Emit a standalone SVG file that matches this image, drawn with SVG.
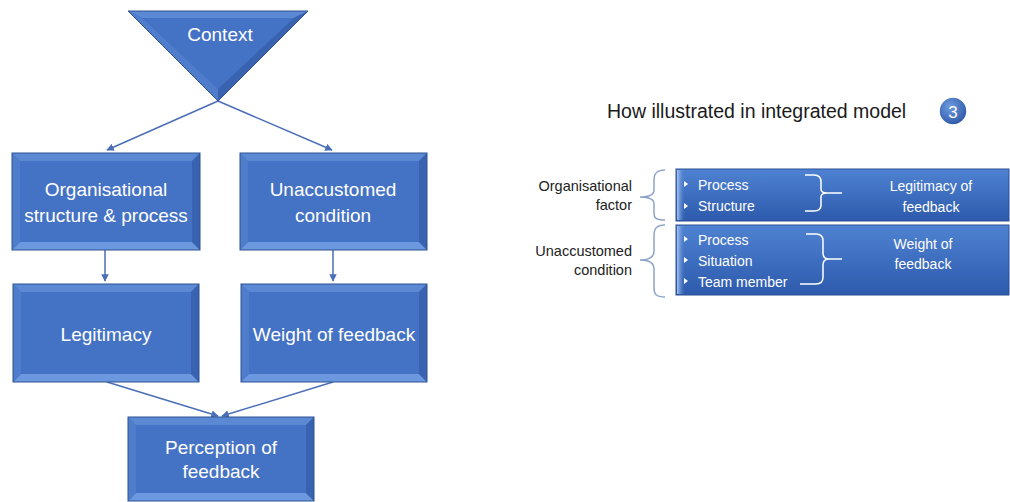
<svg xmlns="http://www.w3.org/2000/svg" width="1010" height="502" viewBox="0 0 1010 502">
<defs>
<style>
.bt{font-family:"Liberation Sans",Arial,sans-serif;font-size:19px;fill:#ffffff;text-anchor:middle}
.lb{font-family:"Liberation Sans",Arial,sans-serif;font-size:14.5px;fill:#222222}
.pt{font-family:"Liberation Sans",Arial,sans-serif;font-size:14px;fill:#ffffff}
.conn{stroke:#4a6fb8;stroke-width:1.5;fill:none}
.main{fill:#4472c4}
.bt1{fill:#5c89d4}
.bb1{fill:#6b98df}
.bl1{fill:#4f7dcc}
.br1{fill:#3963b0}
.edge{fill:none;stroke:#2f528f;stroke-width:1}
.brL{stroke:#8ea4c8;stroke-width:1.5;fill:none}
.brW{stroke:#ffffff;stroke-width:1.5;fill:none}
</style>
<marker id="ah" viewBox="0 0 10 10" refX="9" refY="5" markerWidth="5" markerHeight="5" orient="auto">
<path d="M0,0 L10,5 L0,10 z" fill="#4a6fb8"/>
</marker>
<linearGradient id="pg" x1="0" y1="0" x2="0" y2="1">
<stop offset="0" stop-color="#4f82d2"/>
<stop offset="1" stop-color="#2d5aac"/>
</linearGradient>
<linearGradient id="sg" x1="0" y1="0" x2="1" y2="0">
<stop offset="0" stop-color="#a9c4ee"/>
<stop offset="1" stop-color="#4a7ccd" stop-opacity="0"/>
</linearGradient>
<radialGradient id="cg" cx="0.4" cy="0.35" r="0.7">
<stop offset="0" stop-color="#6f9be0"/>
<stop offset="1" stop-color="#2a55a5"/>
</radialGradient>
</defs>

<g id="connectors">
<line class="conn" x1="218" y1="101" x2="107" y2="150" marker-end="url(#ah)"/>
<line class="conn" x1="218" y1="101" x2="332" y2="150" marker-end="url(#ah)"/>
<line class="conn" x1="105" y1="250" x2="105" y2="281" marker-end="url(#ah)"/>
<line class="conn" x1="333" y1="250" x2="333" y2="281" marker-end="url(#ah)"/>
<line class="conn" x1="107" y1="382" x2="218" y2="416" marker-end="url(#ah)"/>
<line class="conn" x1="333" y1="382" x2="222" y2="416" marker-end="url(#ah)"/>
</g>

<g id="context">
<polygon class="main" points="128,11 308,11 218,101"/>
<polygon class="bt1" points="128,11 308,11 294,18 142,18"/>
<polygon class="bl1" points="128,11 142,18 218,89 218,101"/>
<polygon class="br1" points="308,11 294,18 218,89 218,101"/>
<polygon class="edge" points="128,11 308,11 218,101"/>
<text class="bt" x="220" y="41">Context</text>
</g>

<g id="org-structure">
<rect class="main" x="12" y="153" width="188" height="97"/>
<polygon class="bt1" points="12,153 200,153 192,161 20,161"/>
<polygon class="bb1" points="12,250 200,250 192,242 20,242"/>
<polygon class="bl1" points="12,153 20,161 20,242 12,250"/>
<polygon class="br1" points="200,153 192,161 192,242 200,250"/>
<rect class="edge" x="12" y="153" width="188" height="97"/>
<text class="bt" x="106" y="196">Organisational</text>
<text class="bt" x="106" y="222">structure &amp; process</text>
</g>

<g id="unaccustomed">
<rect class="main" x="240" y="153" width="187" height="97"/>
<polygon class="bt1" points="240,153 427,153 419,161 248,161"/>
<polygon class="bb1" points="240,250 427,250 419,242 248,242"/>
<polygon class="bl1" points="240,153 248,161 248,242 240,250"/>
<polygon class="br1" points="427,153 419,161 419,242 427,250"/>
<rect class="edge" x="240" y="153" width="187" height="97"/>
<text class="bt" x="333" y="196">Unaccustomed</text>
<text class="bt" x="333" y="222">condition</text>
</g>

<g id="legitimacy">
<rect class="main" x="13" y="284" width="186" height="98"/>
<polygon class="bt1" points="13,284 199,284 191,292 21,292"/>
<polygon class="bb1" points="13,382 199,382 191,374 21,374"/>
<polygon class="bl1" points="13,284 21,292 21,374 13,382"/>
<polygon class="br1" points="199,284 191,292 191,374 199,382"/>
<rect class="edge" x="13" y="284" width="186" height="98"/>
<text class="bt" x="106" y="341">Legitimacy</text>
</g>

<g id="weight">
<rect class="main" x="241" y="284" width="186" height="98"/>
<polygon class="bt1" points="241,284 427,284 419,292 249,292"/>
<polygon class="bb1" points="241,382 427,382 419,374 249,374"/>
<polygon class="bl1" points="241,284 249,292 249,374 241,382"/>
<polygon class="br1" points="427,284 419,292 419,374 427,382"/>
<rect class="edge" x="241" y="284" width="186" height="98"/>
<text class="bt" x="334" y="341">Weight of feedback</text>
</g>

<g id="perception">
<rect class="main" x="128" y="417" width="186" height="84"/>
<polygon class="bt1" points="128,417 314,417 306,425 136,425"/>
<polygon class="bb1" points="128,501 314,501 306,493 136,493"/>
<polygon class="bl1" points="128,417 136,425 136,493 128,501"/>
<polygon class="br1" points="314,417 306,425 306,493 314,501"/>
<rect class="edge" x="128" y="417" width="186" height="84"/>
<text class="bt" x="221" y="454">Perception of</text>
<text class="bt" x="221" y="478">feedback</text>
</g>

<g id="title">
<text x="607" y="118" style="font-family:'Liberation Sans',Arial,sans-serif;font-size:19.5px;fill:#1a1a1a">How illustrated in integrated model</text>
<circle cx="953" cy="111" r="14" fill="url(#cg)" stroke="#ffffff" stroke-width="1.5"/>
<text x="953" y="117.5" style="font-family:'Liberation Sans',Arial,sans-serif;font-size:17px;fill:#ffffff;text-anchor:middle">3</text>
</g>

<g id="org-factor">
<text class="lb" x="632" y="191" text-anchor="end">Organisational</text>
<text class="lb" x="632" y="210" text-anchor="end">factor</text>
<path class="brL" d="M665,170 C656,170 654,174 654,180 L654,190 C654,195 650,197 640,197 C650,197 654,199 654,204 L654,213 C654,218 656,220 665,220"/>
</g>

<g id="unacc-condition">
<text class="lb" x="632" y="256" text-anchor="end">Unaccustomed</text>
<text class="lb" x="632" y="275" text-anchor="end">condition</text>
<path class="brL" d="M665,225 C656,225 654,229 654,236 L654,251 C654,257 650,260 640,260 C650,260 654,263 654,269 L654,288 C654,294 656,297 665,297"/>
</g>

<g id="panel-legitimacy">
<rect x="676" y="169" width="333" height="52" fill="url(#pg)" stroke="#2a4f95" stroke-width="1"/>
<rect x="677" y="170" width="8" height="50" fill="url(#sg)"/>
<polygon points="684,181 688,184 684,187" fill="#ffffff"/>
<polygon points="684,203 688,206 684,209" fill="#ffffff"/>
<text class="pt" x="698" y="190">Process</text>
<text class="pt" x="698" y="211">Structure</text>
<path class="brW" d="M805,175 L814,175 C819,175 821,178 821,182 L821,189 C821,192 823,193 827,193 L842,193 M827,193 C823,193 821,194 821,197 L821,205 C821,209 819,211 814,211 L805,211"/>
<text class="pt" x="931" y="191" text-anchor="middle">Legitimacy of</text>
<text class="pt" x="931" y="212" text-anchor="middle">feedback</text>
</g>

<g id="panel-weight">
<rect x="676" y="225" width="333" height="70" fill="url(#pg)" stroke="#2a4f95" stroke-width="1"/>
<rect x="677" y="226" width="8" height="68" fill="url(#sg)"/>
<polygon points="684,236 688,239 684,242" fill="#ffffff"/>
<polygon points="684,257 688,260 684,263" fill="#ffffff"/>
<polygon points="684,278 688,281 684,284" fill="#ffffff"/>
<text class="pt" x="698" y="245">Process</text>
<text class="pt" x="698" y="266">Situation</text>
<text class="pt" x="698" y="287">Team member</text>
<path class="brW" d="M806,234 L816,234 C821,234 823,237 823,241 L823,253 C823,257 825,259 829,259 L842,259 M829,259 C825,259 823,261 823,265 L823,277 C823,281 821,284 816,284 L800,284"/>
<text class="pt" x="923" y="249" text-anchor="middle">Weight of</text>
<text class="pt" x="923" y="269" text-anchor="middle">feedback</text>
</g>
</svg>
